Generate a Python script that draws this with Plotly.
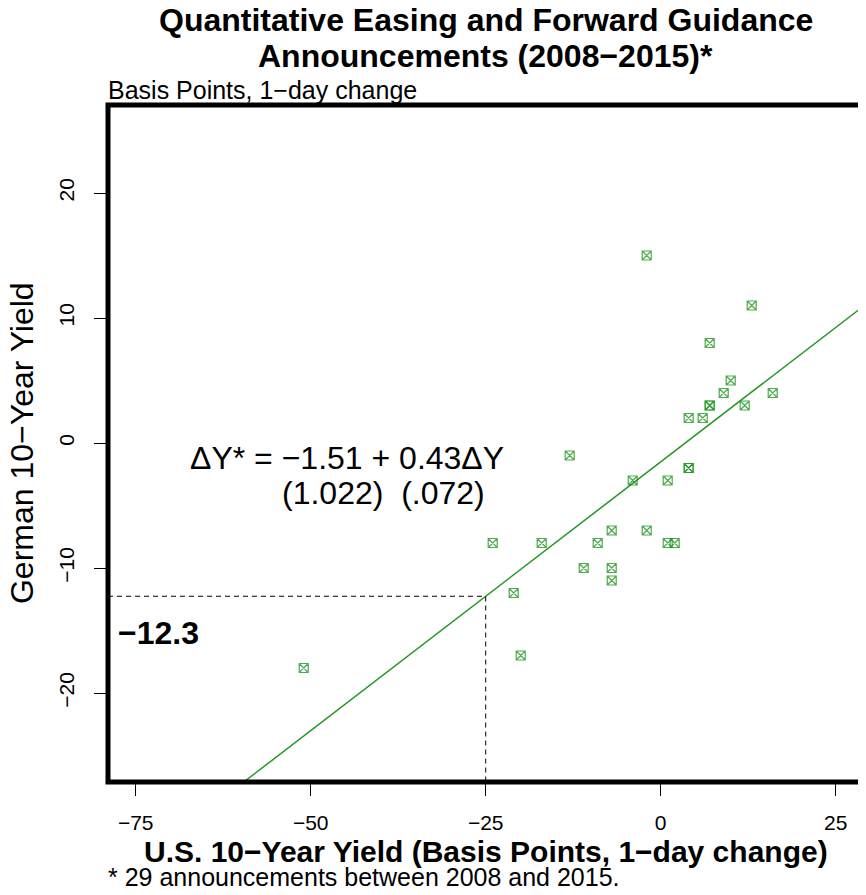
import plotly.graph_objects as go

# Data: 1-day changes (basis points) on 29 QE / forward guidance announcement days
us_change = [-51, -24, -21, -20, -17, -13, -11, -9, -7, -7, -7, -4, -2, -2,
             1, 1, 2, 4, 4, 4, 6, 7, 7, 7, 9, 10, 12, 13, 16]
de_change = [-18, -8, -12, -17, -8, -1, -10, -8, -7, -10, -11, -3, -7, 15,
             -3, -8, -8, 2, -2, -2, 2, 8, 3, 3, 4, 5, 3, 11, 4]

# Fitted regression: dY* = b0 + b1 * dY
coef_intercept = -1.51
coef_slope = 0.43
guide_us = -25

x_range = [-78.96, 28.9]
y_range = [-27.12, 27.04]
x_ticks = [-75, -50, -25, 0, 25]
y_ticks = [-20, -10, 0, 10, 20]

FONT = "Liberation Sans, Arial, Helvetica, sans-serif"
GREEN = "rgb(34,150,34)"

fit_x = [x_range[0] - 5, x_range[1] + 5]
fit_y = [coef_intercept + coef_slope * v for v in fit_x]
guide_y = coef_intercept + coef_slope * guide_us

fig = go.Figure()

fig.add_trace(go.Scatter(
    x=fit_x, y=fit_y, mode="lines",
    line=dict(color=GREEN, width=1.5), hoverinfo="skip", showlegend=False))

fig.add_trace(go.Scatter(
    x=[x_range[0], guide_us, guide_us], y=[guide_y, guide_y, y_range[0]],
    mode="lines", line=dict(color="black", width=1, dash="5px,4px"),
    hoverinfo="skip", showlegend=False))

fig.add_trace(go.Scatter(
    x=us_change, y=de_change, mode="markers",
    marker=dict(symbol="square-x-open", size=9, color="rgba(34,150,34,0.8)",
                line=dict(width=1.2, color="rgba(34,150,34,0.8)")),
    showlegend=False))

# the page body adds an 8px offset, so the figure is 8px smaller each way
fig.update_layout(
    width=858, height=887,
    margin=dict(l=100, r=3, t=97, b=113),
    paper_bgcolor="white", plot_bgcolor="white",
    font=dict(family=FONT, color="black"),
    xaxis=dict(range=x_range, tickvals=x_ticks, ticks="outside", ticklen=13,
               tickwidth=1, tickcolor="black", showgrid=False, zeroline=False,
               showline=False, tickfont=dict(size=21), ticklabelstandoff=9),
    yaxis=dict(range=y_range, tickvals=y_ticks, ticks="outside", ticklen=13,
               tickwidth=1, tickcolor="black", showgrid=False, zeroline=False,
               showline=False, tickfont=dict(size=21), tickangle=-90,
               ticklabelstandoff=12),
    shapes=[dict(type="rect", xref="paper", yref="paper", x0=0, x1=1, y0=0, y1=1,
                 line=dict(color="black", width=5), layer="above")],
)

annotations = [
    dict(text="<b>Quantitative Easing and Forward Guidance</b>",
         xref="paper", yref="paper", x=0.5, y=1.1256, xanchor="center", yanchor="middle",
         showarrow=False, font=dict(size=32)),
    dict(text="<b>Announcements (2008−2015)*</b>",
         xref="paper", yref="paper", x=0.5, y=1.0724, xanchor="center", yanchor="middle",
         showarrow=False, font=dict(size=32)),
    dict(text="Basis Points, 1−day change", xref="paper", yref="paper",
         x=-0.002, y=1.022, xanchor="left", yanchor="middle", showarrow=False,
         font=dict(size=25)),
    dict(text="<b>U.S. 10−Year Yield (Basis Points, 1−day change)</b>", xref="paper",
         yref="paper", x=0.5, y=-0.102, xanchor="center", yanchor="middle",
         showarrow=False, font=dict(size=30)),
    dict(text="* 29 announcements between 2008 and 2015.", xref="paper", yref="paper",
         x=-0.002, y=-0.1403, xanchor="left", yanchor="middle", showarrow=False,
         font=dict(size=25)),
    dict(text="German 10−Year Yield", xref="paper", yref="paper", x=-0.1139, y=0.5007,
         xanchor="center", yanchor="middle", textangle=-90, showarrow=False,
         font=dict(size=32)),
    dict(text="ΔY* = −1.51 + 0.43ΔY", xref="x", yref="y", x=-67.5, y=-1.2,
         xanchor="left", yanchor="middle", showarrow=False, font=dict(size=32)),
    dict(text="(1.022)\u00a0\u00a0(.072)", xref="x", yref="y", x=-54.4, y=-4.0,
         xanchor="left", yanchor="middle", showarrow=False, font=dict(size=32)),
    dict(text="<b>−12.3</b>", xref="x", yref="y", x=-77.8, y=-15.2,
         xanchor="left", yanchor="middle", showarrow=False, font=dict(size=32)),
]
fig.update_layout(annotations=annotations)

fig.write_html("out.html")
